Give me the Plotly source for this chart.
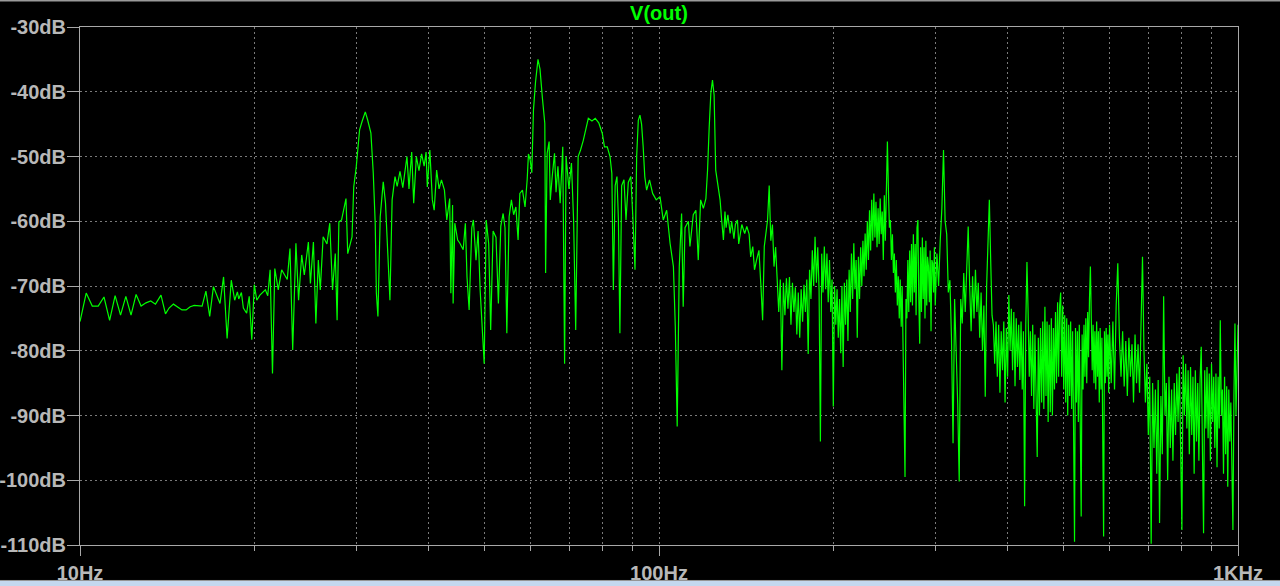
import plotly.graph_objects as go

# FFT of V(out): low band read point by point (Hz, dB)
freq_low = [
    10.00, 10.25, 10.50, 10.75, 11.00, 11.25, 11.50, 11.75, 12.00, 12.25,
    12.50, 12.75, 13.00, 13.25, 13.50, 13.80, 14.05, 14.25, 14.50, 14.75,
    15.00, 15.25, 15.50, 15.75, 16.00, 16.25, 16.50, 16.75, 17.00, 17.25,
    17.45, 17.70, 17.95, 18.25, 18.50, 18.70, 18.80, 19.00, 19.15, 19.40,
    19.60, 19.80, 20.00, 20.20, 20.45, 20.90, 21.10, 21.30, 21.50, 21.70,
    22.00, 22.30, 22.60, 22.80, 23.05, 23.30, 23.60, 23.85, 24.15, 24.40,
    24.80, 25.00, 25.30, 25.55, 25.80, 26.00, 26.30, 26.70, 27.00, 27.30,
    27.60, 27.80, 28.00, 28.30, 28.80, 29.00, 29.50, 29.70, 30.00, 30.40,
    30.70, 31.10, 31.40, 31.80, 32.10, 32.35, 32.50, 32.70, 33.00, 33.40,
    33.70, 34.10, 34.30, 34.60, 35.00, 35.30, 35.70, 36.10, 36.70, 37.00,
    37.40, 37.70, 38.10, 38.50, 38.90, 39.30, 39.60, 39.80, 40.20, 40.60,
    40.90, 41.30, 41.70, 42.10, 42.60, 43.00, 43.50, 43.70, 44.00, 44.10,
    44.40, 44.90, 45.30, 45.90, 46.30, 46.60, 47.00, 47.50, 47.80, 48.30,
    48.70, 49.10, 49.50, 49.90, 50.30, 50.80, 51.20, 51.70, 52.30, 52.80,
    53.30, 53.80, 54.20, 54.60, 55.10, 55.60, 56.10, 56.60, 57.10, 57.50,
    58.10, 58.70, 59.20, 59.50, 59.90, 60.30, 60.70, 61.20, 61.80, 62.30,
    62.90, 63.50, 63.70, 64.10, 64.60, 64.90, 65.40, 66.00, 66.40, 66.90,
    67.50, 68.20, 68.70, 69.10, 69.90, 70.60, 71.20, 71.80, 72.50, 73.20,
    74.00, 74.80, 75.50, 76.60, 77.60, 78.70, 79.80, 80.50, 81.40, 82.30,
    82.90, 83.40, 84.00, 84.60, 85.10, 85.60, 86.20, 87.00, 87.70, 88.50,
    89.40, 90.10, 90.90, 91.50, 92.10, 92.70, 93.30, 93.90, 94.50, 95.20,
    96.30, 97.50, 98.90, 100.4, 101.7, 103.1, 104.5, 105.9, 106.7, 107.5,
    108.4, 109.4, 110.1, 110.9, 112.4, 113.1, 114.6, 115.8, 116.9, 118.0,
    119.3, 120.5, 121.3, 122.1, 122.9, 123.7, 124.5, 125.3, 126.1, 127.5,
    128.3, 129.2, 130.0, 130.6, 131.5, 132.7, 133.5, 134.7, 135.5, 136.6,
    137.3, 138.0, 139.0, 140.6, 141.8, 143.1, 144.0, 145.2, 146.2, 147.4,
    148.8,
]
db_low = [
    -75.5, -71.1, -73.1, -73.1, -71.7, -75.3, -71.5, -74.5, -71.6, -74.5,
    -71.3, -73.1, -72.6, -72.3, -72.8, -71.4, -74.3, -73.4, -72.8, -73.3,
    -73.7, -73.7, -73.2, -73.0, -73.1, -73.1, -70.8, -74.7, -70.1, -71.5,
    -72.7, -68.6, -78.1, -69.1, -72.2, -70.9, -72.0, -71.0, -73.4, -74.2,
    -71.6, -78.3, -69.8, -72.2, -71.4, -70.6, -71.5, -67.5, -83.5, -67.3,
    -70.6, -67.5, -68.3, -69.0, -64.2, -79.9, -63.4, -72.2, -65.2, -68.3,
    -63.2, -69.6, -63.2, -75.8, -66.0, -70.6, -62.4, -63.5, -60.3, -70.6,
    -65.0, -75.3, -60.1, -59.8, -56.5, -65.0, -62.4, -54.7, -51.6, -45.9,
    -44.6, -43.1, -44.4, -46.4, -52.6, -60.3, -71.1, -74.7, -59.3, -53.9,
    -57.2, -68.0, -72.2, -56.7, -53.1, -54.6, -52.3, -54.8, -50.0, -55.0,
    -49.3, -57.2, -50.0, -52.2, -49.6, -51.5, -49.3, -54.7, -49.0, -56.7,
    -58.3, -52.1, -55.0, -53.6, -55.2, -59.8, -56.5, -71.1, -57.5, -72.7,
    -60.3, -62.9, -63.4, -64.4, -60.3, -68.6, -73.7, -61.0, -59.8, -66.0,
    -61.5, -70.6, -76.8, -82.0, -59.8, -63.5, -76.8, -61.5, -62.5, -72.7,
    -60.8, -58.8, -61.0, -77.3, -59.3, -56.7, -59.0, -57.8, -62.9, -55.7,
    -55.2, -57.8, -53.6, -49.6, -50.5, -52.5, -42.8, -38.5, -35.0, -36.5,
    -41.0, -44.9, -68.0, -49.5, -47.7, -56.7, -53.1, -49.5, -55.5, -51.5,
    -57.2, -48.5, -82.0, -50.0, -55.0, -51.0, -59.8, -76.8, -50.0, -49.0,
    -47.5, -45.6, -44.1, -44.5, -44.1, -44.8, -46.4, -48.5, -48.5, -50.0,
    -52.6, -70.6, -54.5, -53.1, -59.8, -77.3, -54.5, -53.6, -59.8, -54.0,
    -53.1, -59.2, -67.5, -50.0, -44.4, -43.6, -45.0, -48.5, -53.1, -55.2,
    -53.6, -55.7, -56.7, -56.2, -59.8, -58.3, -63.4, -67.0, -76.3, -91.7,
    -67.0, -58.8, -73.2, -61.0, -60.0, -63.9, -59.0, -58.3, -66.0, -56.7,
    -58.0, -56.5, -52.1, -45.4, -40.2, -38.2, -40.5, -52.1, -53.6, -56.7,
    -59.8, -62.9, -58.5, -61.0, -59.0, -61.9, -60.0, -62.7, -60.5, -59.8,
    -63.5, -62.5, -60.5, -61.9, -60.8, -62.0, -65.5, -63.9, -67.5, -66.0,
    -64.5,
]

# high band: FFT bins 150..1000 Hz (Hz, dB)
freq_high = [
    150, 151, 152, 153, 154, 155, 156, 157, 158, 159,
    160, 161, 162, 163, 164, 165, 166, 167, 168, 169,
    170, 171, 172, 173, 174, 175, 176, 177, 178, 179,
    180, 181, 182, 183, 184, 185, 186, 187, 188, 189,
    190, 191, 192, 193, 194, 195, 196, 197, 198, 199,
    200, 201, 202, 203, 204, 205, 206, 207, 208, 209,
    210, 211, 212, 213, 214, 215, 216, 217, 218, 219,
    220, 221, 222, 223, 224, 225, 226, 227, 228, 229,
    230, 231, 232, 233, 234, 235, 236, 237, 238, 239,
    240, 241, 242, 243, 244, 245, 246, 247, 248, 249,
    250, 251, 252, 253, 254, 255, 256, 257, 258, 259,
    260, 261, 262, 263, 264, 265, 266, 267, 268, 269,
    270, 271, 272, 273, 274, 275, 276, 277, 278, 279,
    280, 281, 282, 283, 284, 285, 286, 287, 288, 289,
    290, 291, 292, 293, 294, 295, 296, 297, 298, 299,
    300, 302, 304, 306, 308, 310, 312, 314, 316, 318,
    320, 322, 324, 326, 328, 330, 332, 334, 336, 338,
    340, 342, 344, 346, 348, 350, 352, 354, 356, 358,
    360, 362, 364, 366, 368, 370, 372, 374, 376, 378,
    380, 382, 384, 386, 388, 390, 392, 394, 396, 398,
    400, 402, 404, 406, 408, 410, 412, 414, 416, 418,
    420, 422, 424, 426, 428, 430, 432, 434, 436, 438,
    440, 442, 444, 446, 448, 450, 452, 454, 456, 458,
    460, 462, 464, 466, 468, 470, 472, 474, 476, 478,
    480, 482, 484, 486, 488, 490, 492, 494, 496, 498,
    500, 502, 504, 506, 508, 510, 512, 514, 516, 518,
    520, 522, 524, 526, 528, 530, 532, 534, 536, 538,
    540, 542, 544, 546, 548, 550, 552, 554, 556, 558,
    560, 562, 564, 566, 568, 570, 572, 574, 576, 578,
    580, 582, 584, 586, 588, 590, 592, 594, 596, 598,
    600, 604, 608, 612, 616, 620, 624, 628, 632, 636,
    640, 644, 648, 652, 656, 660, 664, 668, 672, 676,
    680, 684, 688, 692, 696, 700, 704, 708, 712, 716,
    720, 724, 728, 732, 736, 740, 744, 748, 752, 756,
    760, 764, 768, 772, 776, 780, 784, 788, 792, 796,
    800, 804, 808, 812, 816, 820, 824, 828, 832, 836,
    840, 844, 848, 852, 856, 860, 864, 868, 872, 876,
    880, 884, 888, 892, 896, 900, 904, 908, 912, 916,
    920, 924, 928, 932, 936, 940, 944, 948, 952, 956,
    960, 964, 968, 972, 976, 980, 984, 988, 992, 996,
    1000,
]
db_high = [
    -70.1, -75.3, -63.9, -62.0, -59.8, -54.5, -63.0, -60.5, -67.0, -64.0,
    -70.5, -74.0, -69.0, -83.0, -69.5, -74.5, -68.8, -73.5, -68.6, -76.0,
    -69.5, -74.0, -70.2, -77.5, -71.0, -78.0, -70.5, -75.5, -69.8, -74.0,
    -69.0, -80.5, -67.5, -72.0, -64.5, -70.0, -62.4, -69.5, -64.0, -70.5,
    -94.0, -65.0, -71.0, -63.9, -70.5, -65.0, -72.5, -66.0, -74.0, -69.0,
    -88.6, -70.0, -76.0, -70.5, -78.0, -72.0, -80.4, -70.0, -82.5, -69.5,
    -76.0, -69.0, -78.5, -67.5, -74.0, -65.0, -72.0, -63.4, -70.5, -66.0,
    -78.0, -65.5, -72.0, -64.0, -70.0, -63.0, -68.5, -61.9, -67.5, -60.0,
    -66.0, -58.3, -64.5, -56.7, -63.0, -55.7, -62.5, -57.0, -64.0, -58.0,
    -63.5, -56.5, -62.0, -58.5, -66.0, -56.0, -63.0, -52.0, -47.7, -55.0,
    -61.0, -59.8, -66.0, -62.0, -68.0, -65.0, -71.0, -66.0, -73.0, -68.5,
    -75.0, -69.0, -76.3, -70.0, -78.0, -89.7, -99.5, -72.0, -75.0, -66.0,
    -74.0, -64.5, -72.5, -63.5, -73.0, -62.0, -71.0, -63.5, -74.5, -61.0,
    -59.8, -72.0, -78.9, -64.0, -74.0, -62.5, -72.0, -64.0, -75.0, -63.0,
    -73.0, -65.5, -67.0, -72.5, -64.5, -77.0, -66.0, -66.5, -71.0, -64.0,
    -73.0, -65.0, -70.0, -63.0, -58.0, -49.0, -60.0, -62.0, -71.0, -69.1,
    -78.0, -94.3, -72.0, -80.0, -88.1, -100.2, -72.0, -75.8, -68.0, -74.0,
    -67.5, -60.8, -70.0, -77.0, -68.5, -75.0, -67.5, -74.0, -69.5, -78.0,
    -71.0, -80.0, -73.0, -87.1, -70.0, -62.0, -56.7, -66.0, -74.5, -76.0,
    -82.0, -75.5, -84.0, -76.0, -86.5, -77.0, -83.0, -75.5, -88.0, -76.5,
    -84.0, -71.4, -80.0, -73.5, -83.0, -74.0, -85.5, -75.0, -82.5, -76.0,
    -84.5, -75.5, -86.0, -77.0, -104.0, -76.0, -66.3, -74.0, -84.0, -77.0,
    -87.0, -76.0, -89.0, -77.5, -91.0, -96.4, -78.0, -90.0, -76.5, -88.0,
    -75.5, -89.0, -73.2, -87.0, -75.5, -91.0, -76.0, -89.5, -75.0, -90.0,
    -76.5, -86.0, -74.0, -85.0, -72.5, -84.0, -73.0, -71.0, -84.0, -73.0,
    -86.0, -74.5, -88.0, -75.0, -90.0, -76.0, -87.0, -75.5, -89.0, -77.0,
    -92.0, -109.5, -76.5, -88.0, -77.0, -91.0, -76.0, -87.0, -105.6, -77.5,
    -86.0, -76.0, -84.0, -75.0, -85.0, -74.0, -81.0, -72.0, -67.0, -75.0,
    -83.0, -76.0, -85.0, -77.0, -86.0, -75.5, -84.0, -77.0, -88.0, -76.5,
    -86.0, -78.0, -90.0, -108.7, -77.0, -85.0, -76.5, -84.0, -77.5, -86.5,
    -76.0, -85.0, -75.5, -86.0, -73.0, -66.5, -78.0, -84.0, -77.0, -85.5,
    -78.5, -87.0, -78.0, -84.0, -79.0, -88.0, -77.5, -85.0, -79.0, -86.5,
    -76.0, -65.5, -80.0, -88.0, -82.0, -93.0, -84.0, -109.8, -85.0, -95.0,
    -86.0, -99.0, -84.5, -106.6, -87.0, -96.0, -71.6, -90.0, -85.0, -100.0,
    -84.0, -95.0, -86.0, -97.0, -85.0, -93.0, -83.5, -91.0, -82.5, -95.0,
    -107.7, -80.7, -90.0, -82.0, -92.0, -83.0, -96.0, -82.5, -93.0, -84.0,
    -99.0, -83.0, -94.0, -85.0, -97.0, -84.5, -79.4, -95.0, -108.2, -83.0,
    -92.0, -82.5, -93.5, -83.5, -97.0, -82.0, -91.0, -84.0, -95.0, -83.5,
    -98.0, -84.0, -92.0, -75.3, -90.0, -86.0, -99.0, -84.0, -96.0, -85.5,
    -101.0, -86.0, -94.0, -88.0, -103.0, -107.7, -87.0, -75.8, -90.0, -82.0,
    -76.0,
]

y_ticks = [-30, -40, -50, -60, -70, -80, -90, -100, -110]
y_labels = ["-30dB", "-40dB", "-50dB", "-60dB", "-70dB", "-80dB", "-90dB", "-100dB", "-110dB"]
x_major = [10, 100, 1000]
x_major_labels = ["10Hz", "100Hz", "1KHz"]
x_minor = [20, 30, 40, 50, 60, 70, 80, 90, 200, 300, 400, 500, 600, 700, 800, 900]

assert len(freq_low) == len(db_low)
assert len(freq_high) == len(db_high)

AXIS = "#a8a8a8"
GRID = "#7a7a7a"
TEXT = "#b8b8b8"
FONT = "Liberation Sans, Arial, sans-serif"

fig = go.Figure()
fig.add_trace(
    go.Scatter(
        x=freq_low + freq_high,
        y=db_low + db_high,
        mode="lines",
        name="V(out)",
        line=dict(color="#00ff00", width=1.2),
        hoverinfo="skip",
    )
)

fig.update_layout(
    width=1280,
    height=586,
    margin=dict(l=80, r=42, t=27, b=41, autoexpand=False),
    paper_bgcolor="black",
    plot_bgcolor="black",
    showlegend=False,
    font=dict(family=FONT, size=20, color=TEXT),
    title=dict(
        text="<b>V(out)</b>",
        x=0.5,
        xref="paper",
        xanchor="center",
        y=1 - 13 / 586,
        yref="container",
        yanchor="middle",
        automargin=False,
        font=dict(family=FONT, size=20, color="#00ff00"),
    ),
    shapes=[
        # window chrome above/below the plot
        dict(type="line", xref="paper", yref="paper", x0=-0.08, x1=1.05, y0=1.0512, y1=1.0512,
             line=dict(color="#9a9a9a", width=2)),
        dict(type="line", xref="paper", yref="paper", x0=-0.08, x1=1.05, y0=-0.0685, y1=-0.0685,
             line=dict(color="#9a9a9a", width=1)),
        dict(type="rect", xref="paper", yref="paper", x0=-0.08, x1=1.05, y0=-0.0695, y1=-0.085,
             fillcolor="#c4d8ef", line=dict(width=0)),
    ],
)

fig.update_xaxes(
    type="log",
    range=[1, 3],
    automargin=False,
    tickmode="array",
    tickvals=x_major,
    ticktext=x_major_labels,
    tickfont=dict(family=FONT, size=20, color=TEXT, weight="bold"),
    ticks="outside",
    ticklen=10,
    tickwidth=1,
    tickcolor=AXIS,
    showline=True,
    linecolor=AXIS,
    linewidth=1,
    mirror=True,
    showgrid=True,
    gridcolor=GRID,
    griddash="2px,3px",
    gridwidth=1,
    zeroline=False,
    minor=dict(
        tickmode="array",
        tickvals=x_minor,
        ticks="outside",
        ticklen=5,
        tickcolor=AXIS,
        showgrid=True,
        gridcolor=GRID,
        griddash="2px,3px",
        gridwidth=1,
    ),
)

fig.update_yaxes(
    range=[-110, -30],
    automargin=False,
    tickmode="array",
    tickvals=y_ticks,
    ticktext=y_labels,
    tickfont=dict(family=FONT, size=20, color=TEXT, weight="bold"),
    ticks="outside",
    ticklen=12,
    tickwidth=1,
    tickcolor=AXIS,
    ticklabelstandoff=-3,
    showline=True,
    linecolor=AXIS,
    linewidth=1,
    mirror=True,
    showgrid=True,
    gridcolor=GRID,
    griddash="2px,3px",
    gridwidth=1,
    zeroline=False,
)

# page body has a default 8px margin; drop it so the figure fills the window
fig.write_html(
    "out.html",
    config={"displayModeBar": False},
    post_script="document.body.style.margin='0';document.body.style.background='#000';",
)
